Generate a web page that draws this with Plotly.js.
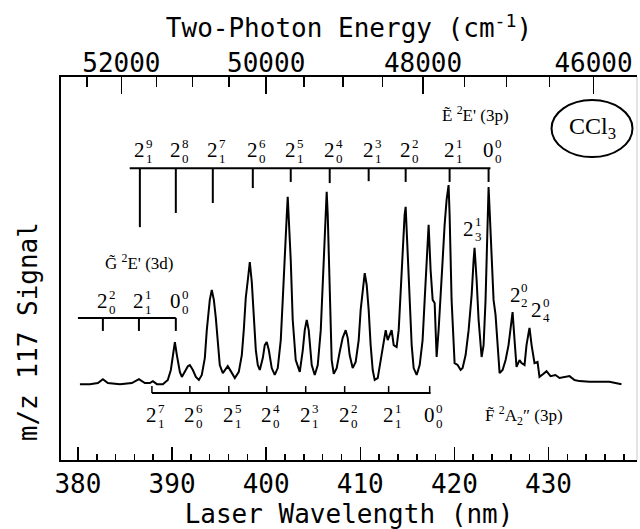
<!DOCTYPE html>
<html>
<head>
<meta charset="utf-8">
<script src="https://cdn.plot.ly/plotly-3.0.1.min.js"></script>
<style>html,body{margin:0;padding:0;background:#fff;}#chart{width:640px;height:529px;}</style>
</head>
<body>
<div id="chart"></div>
<script>
// ---- spectrum (laser wavelength nm, m/z 117 signal arb. units) ----
const wavelength = [380.21,381.27,382.12,382.65,383.18,384.46,385.73,386.48,387.11,387.64,387.96,388.39,389.02,389.55,389.87,390.09,390.30,390.51,390.83,391.04,391.36,391.68,391.89,392.21,392.53,392.85,393.16,393.48,393.69,393.91,394.01,394.22,394.44,394.65,394.86,395.07,395.39,395.71,395.92,396.24,396.67,397.09,397.41,397.62,397.83,398.05,398.26,398.47,398.68,398.90,399.11,399.32,399.64,399.85,400.06,400.28,400.59,400.91,401.23,401.55,401.76,401.97,402.19,402.29,402.40,402.61,402.82,403.14,403.57,403.89,404.10,404.31,404.52,404.84,405.16,405.48,405.80,406.01,406.22,406.43,406.54,406.75,406.96,407.18,407.49,407.81,408.13,408.45,408.66,408.87,409.19,409.51,409.83,410.04,410.25,410.47,410.68,410.89,411.10,411.32,411.53,411.85,412.17,412.48,412.70,412.91,413.12,413.33,413.55,413.86,414.08,414.29,414.50,414.71,414.82,414.93,415.03,415.24,415.46,415.67,415.99,416.31,416.62,416.84,417.05,417.26,417.47,417.69,417.90,418.00,418.11,418.32,418.54,418.75,418.96,419.17,419.38,419.49,419.70,420.02,420.34,420.66,420.87,421.19,421.51,421.83,422.04,422.14,422.36,422.57,422.89,423.10,423.31,423.52,423.63,423.74,423.95,424.16,424.37,424.59,424.80,425.12,425.44,425.75,425.97,426.18,426.39,426.60,426.92,427.13,427.45,427.66,427.88,427.98,428.20,428.51,428.83,429.04,429.47,429.79,430.21,430.74,431.17,431.70,432.23,432.76,433.29,434.35,435.41,436.47,437.75];
const signal = [19.8,19.8,20.1,21.1,20.1,19.8,20.1,21.1,20.1,20.1,20.6,19.8,19.8,20.9,23.5,27.4,30.8,27.4,23.0,21.7,23.0,24.5,24.8,23.5,21.7,20.9,22.2,26.6,33.9,39.2,41.8,44.4,41.8,37.1,30.0,24.8,22.7,24.0,24.5,23.2,21.4,23.0,27.4,33.9,42.3,47.0,51.7,46.5,36.6,28.7,24.8,23.5,26.6,30.0,30.8,28.7,24.0,22.2,24.0,31.3,41.8,54.8,64.0,68.7,64.0,52.2,36.6,26.1,23.0,28.7,33.9,36.6,33.9,24.8,22.2,24.8,33.9,47.0,60.1,70.0,64.0,41.8,26.1,22.5,24.0,28.2,31.9,33.9,31.9,27.4,24.0,25.6,31.3,39.2,44.4,48.8,45.7,39.2,30.0,23.5,20.9,21.4,26.1,31.3,33.9,31.3,32.6,33.9,30.0,29.5,33.9,44.4,54.8,64.0,66.1,60.1,57.4,41.8,30.0,24.0,22.2,24.8,31.3,41.8,53.5,61.4,49.6,41.8,41.0,31.3,26.9,33.9,41.8,52.2,61.4,67.9,71.8,64.0,41.8,25.3,24.8,23.5,24.0,27.4,33.9,43.1,52.2,55.4,47.0,36.6,26.9,30.0,41.8,60.1,71.3,65.3,52.2,41.8,37.9,30.0,22.7,23.5,26.1,30.0,35.2,38.6,31.3,24.3,26.1,25.3,24.8,30.0,33.2,34.5,30.0,25.3,25.6,21.7,22.5,23.2,21.9,22.2,21.4,21.7,21.9,20.9,20.6,20.4,20.4,20.4,19.8];

// ---- axis ticks ----
const wlTicks = [380, 390, 400, 410, 420, 430];
const energyLabeled = [52000, 50000, 48000, 46000];
const energyMinor = [52500, 51500, 51000, 50500, 49500, 49000, 48500, 47500, 47000, 46500, 45500];

// ---- assignment combs ----
const eCombWl = [386.58, 390.40, 394.33, 398.58, 402.61, 406.75, 410.89, 414.82, 419.49, 423.63];
const eCombEnd = [60.8, 64.5, 67.1, 71.0, 72.6, 72.3, 72.8, 72.6, 72.6, 72.6];
const eBase = ['2','2','2','2','2','2','2','2','2','0'];
const eSup  = ['9','8','7','6','5','4','3','2','1','0'];
const eSub  = ['1','0','1','0','1','0','1','0','1','0'];

const gCombWl = [382.65, 386.48, 390.40];
const gBase = ['2','2','0'];
const gSup  = ['2','1','0'];
const gSub  = ['0','1','0'];

const fCombWl = [387.86, 391.89, 396.03, 400.06, 404.20, 408.34, 413.01, 417.37];
const fBase = ['2','2','2','2','2','2','2','0'];
const fSup  = ['7','6','5','4','3','2','1','0'];
const fSub  = ['1','0','1','0','1','0','1','0'];

const peakWl = [421.51, 426.44, 428.73];
const peakS  = [60.4, 43.1, 39.2];
const peakSup = ['1','0','0'];
const peakSub = ['3','2','4'];

// ---- layout constants ----
const E_BAR = 76.2, E_LAB = 80.9, E_BAR_START = 385.5;
const G_BAR = 37.1, G_TICK_END = 33.7, G_LAB = 41.4, G_BAR_START = 380.0;
const F_BAR = 17.5, F_TICK_TOP = 19.3, F_LAB = 11.7;

const mono = 'DejaVu Sans Mono';
const serif = 'Liberation Serif';
const shapes = [];
const annotations = [];
const blk = {color: '#000', width: 2};

function lab(x, y, base, sup, sub) {
  annotations.push({x: x, y: y, xref: 'x', yref: 'y', text: base, showarrow: false,
    xanchor: 'center', yanchor: 'middle', font: {family: serif, size: 21, color: '#000'}});
  annotations.push({x: x, y: y, xref: 'x', yref: 'y', text: sup, showarrow: false,
    xanchor: 'left', yanchor: 'middle', xshift: 4, yshift: 7,
    font: {family: serif, size: 13, color: '#000'}});
  annotations.push({x: x, y: y, xref: 'x', yref: 'y', text: sub, showarrow: false,
    xanchor: 'left', yanchor: 'middle', xshift: 4, yshift: -8,
    font: {family: serif, size: 13, color: '#000'}});
}

// E comb
shapes.push({type: 'line', xref: 'x', yref: 'y', x0: E_BAR_START, x1: eCombWl[eCombWl.length-1] + 0.2, y0: E_BAR, y1: E_BAR, line: blk});
eCombWl.forEach((w, i) => {
  shapes.push({type: 'line', xref: 'x', yref: 'y', x0: w, x1: w, y0: E_BAR, y1: eCombEnd[i], line: blk});
  lab(w, E_LAB, eBase[i], eSup[i], eSub[i]);
});
// G comb
shapes.push({type: 'line', xref: 'x', yref: 'y', x0: G_BAR_START, x1: gCombWl[gCombWl.length-1], y0: G_BAR, y1: G_BAR, line: blk});
gCombWl.forEach((w, i) => {
  shapes.push({type: 'line', xref: 'x', yref: 'y', x0: w, x1: w, y0: G_BAR, y1: G_TICK_END, line: blk});
  lab(w, G_LAB, gBase[i], gSup[i], gSub[i]);
});
// F comb
shapes.push({type: 'line', xref: 'x', yref: 'y', x0: fCombWl[0], x1: fCombWl[fCombWl.length-1] + 0.1, y0: F_BAR, y1: F_BAR, line: blk});
fCombWl.forEach((w, i) => {
  shapes.push({type: 'line', xref: 'x', yref: 'y', x0: w, x1: w, y0: F_BAR, y1: F_TICK_TOP, line: {color: '#000', width: 1.5}});
  lab(w, F_LAB, fBase[i], fSup[i], fSub[i]);
});
// peak labels
peakWl.forEach((w, i) => lab(w, peakS[i], '2', peakSup[i], peakSub[i]));

// state labels
annotations.push({x: 386.58, y: 51.7, xref: 'x', yref: 'y', text: 'G\u0303 <sup>2</sup>E\' (3d)', showarrow: false,
  xanchor: 'center', yanchor: 'middle', font: {family: serif, size: 17, color: '#000'}});
annotations.push({x: 425.97, y: 90.3, xref: 'x', yref: 'y', text: '\u1EBC <sup>2</sup>E\' (3p)', showarrow: false,
  xanchor: 'right', yanchor: 'middle', font: {family: serif, size: 17, color: '#000'}});
annotations.push({x: 422.99, y: 11.5, xref: 'x', yref: 'y', text: 'F\u0303 <sup>2</sup>A<sub>2</sub>\u2033 (3p)', showarrow: false,
  xanchor: 'left', yanchor: 'middle', font: {family: serif, size: 17, color: '#000'}});

// CCl3 ellipse
shapes.push({type: 'circle', xref: 'x', yref: 'y', x0: 430.32, x1: 438.92, y0: 79.1, y1: 94.0, line: blk});
annotations.push({x: 434.62, y: 86.6, xref: 'x', yref: 'y', text: 'CCl<sub>3</sub>', showarrow: false,
  xanchor: 'center', yanchor: 'middle', font: {family: serif, size: 24, color: '#000'}});

// y title
annotations.push({x: -0.057, y: 0.334, xref: 'paper', yref: 'paper', text: 'm/z 117 Signal', showarrow: false,
  textangle: -90, xanchor: 'center', yanchor: 'middle', font: {family: mono, size: 26, color: '#000'}});

// right border (faint)
shapes.push({type: 'line', xref: 'paper', yref: 'paper', x0: 1, x1: 1, y0: 0, y1: 1, line: {color: '#c8c8c8', width: 1}});

const xr = [378.2, 439.4];
const traces = [
  {x: wavelength, y: signal, type: 'scatter', mode: 'lines', line: {color: '#000', width: 2}, hoverinfo: 'skip', showlegend: false},
  {x: [xr[0], xr[1]], y: [null, null], xaxis: 'x2', type: 'scatter', mode: 'lines', hoverinfo: 'skip', showlegend: false}
];

const layout = {
  width: 640, height: 529,
  margin: {l: 61, r: 3, t: 77, b: 69},
  paper_bgcolor: '#fff', plot_bgcolor: '#fff',
  showlegend: false,
  font: {family: mono, color: '#000'},
  xaxis: {
    range: xr, showline: true, linecolor: '#000', linewidth: 2, mirror: false,
    ticks: 'inside', ticklen: 13, tickwidth: 1.5, tickcolor: '#000',
    tickmode: 'array', tickvals: wlTicks, ticktext: wlTicks.map(String),
    minor: {dtick: 2, tick0: 380, ticks: 'inside', ticklen: 6, tickwidth: 1.5, tickcolor: '#000'},
    tickfont: {family: mono, size: 26, color: '#000'},
    showgrid: false, zeroline: false,
    title: {text: 'Laser Wavelength (nm)', font: {family: mono, size: 26, color: '#000'}, standoff: 2}
  },
  xaxis2: {
    overlaying: 'x', side: 'top', range: xr,
    showline: true, linecolor: '#000', linewidth: 2,
    ticks: 'inside', ticklen: 17, tickwidth: 1.5, tickcolor: '#000',
    tickmode: 'array', tickvals: energyLabeled.map(e => 2e7 / e), ticktext: energyLabeled.map(String),
    minor: {tickmode: 'array', tickvals: energyMinor.map(e => 2e7 / e), ticks: 'inside', ticklen: 10, tickwidth: 1.5, tickcolor: '#000'},
    tickfont: {family: mono, size: 26, color: '#000'},
    ticklabelstandoff: -7,
    showgrid: false, zeroline: false,
    title: {text: 'Two-Photon Energy (cm<sup>-1</sup>)', font: {family: mono, size: 26, color: '#000'}, standoff: 2}
  },
  yaxis: {
    range: [0, 100], showline: true, linecolor: '#000', linewidth: 2,
    ticks: '', showticklabels: false, showgrid: false, zeroline: false
  },
  shapes: shapes,
  annotations: annotations
};

Plotly.newPlot('chart', traces, layout, {staticPlot: true, displayModeBar: false});
</script>
</body>
</html>
